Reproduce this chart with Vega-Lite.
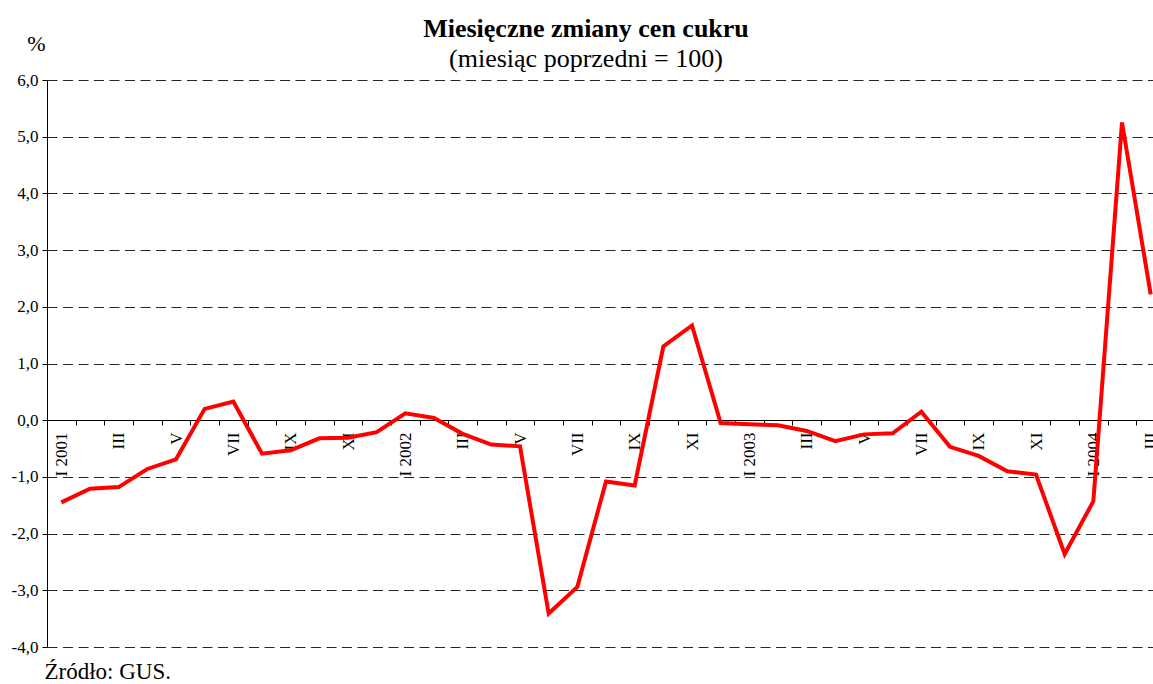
{
  "$schema": "https://vega.github.io/schema/vega-lite/v6.json",
  "autosize": {"type": "none"},
  "padding": {"left": 47, "top": 80, "right": -12, "bottom": 37},
  "width": 1118,
  "height": 567,
  "background": "white",
  "config": {"view": {"stroke": null}, "font": "Liberation Serif"},
  "title": {
    "text": "Miesięczne zmiany cen cukru",
    "subtitle": "(miesiąc poprzedni = 100)",
    "anchor": "middle",
    "frame": "group",
    "dx": -20,
    "offset": -40,
    "font": "Liberation Serif",
    "fontSize": 26,
    "fontWeight": "bold",
    "color": "black",
    "subtitleFont": "Liberation Serif",
    "subtitleFontSize": 26,
    "subtitleColor": "black",
    "subtitlePadding": 4
  },
  "data": {
    "values": [
      {"m": "I 2001#00", "v": -1.45},
      {"m": "#01", "v": -1.21},
      {"m": "III#02", "v": -1.18},
      {"m": "#03", "v": -0.86},
      {"m": "V#04", "v": -0.69},
      {"m": "#05", "v": 0.2},
      {"m": "VII#06", "v": 0.33},
      {"m": "#07", "v": -0.59},
      {"m": "IX#08", "v": -0.53},
      {"m": "#09", "v": -0.32},
      {"m": "XI#10", "v": -0.31},
      {"m": "#11", "v": -0.21},
      {"m": "I 2002#12", "v": 0.12},
      {"m": "#13", "v": 0.04},
      {"m": "III#14", "v": -0.24},
      {"m": "#15", "v": -0.43},
      {"m": "V#16", "v": -0.46},
      {"m": "#17", "v": -3.41},
      {"m": "VII#18", "v": -2.94},
      {"m": "#19", "v": -1.08},
      {"m": "IX#20", "v": -1.15},
      {"m": "#21", "v": 1.3},
      {"m": "XI#22", "v": 1.67},
      {"m": "#23", "v": -0.05},
      {"m": "I 2003#24", "v": -0.07},
      {"m": "#25", "v": -0.09},
      {"m": "III#26", "v": -0.19},
      {"m": "#27", "v": -0.37},
      {"m": "V#28", "v": -0.25},
      {"m": "#29", "v": -0.23},
      {"m": "VII#30", "v": 0.15},
      {"m": "#31", "v": -0.47},
      {"m": "IX#32", "v": -0.63},
      {"m": "#33", "v": -0.9},
      {"m": "XI#34", "v": -0.96},
      {"m": "#35", "v": -2.36},
      {"m": "I 2004#36", "v": -1.43},
      {"m": "#37", "v": 5.25},
      {"m": "III#38", "v": 2.22}
    ]
  },
  "mark": {"type": "line", "color": "#ff0000", "strokeWidth": 4, "strokeJoin": "miter", "clip": false},
  "encoding": {
    "x": {
      "field": "m",
      "type": "ordinal",
      "sort": null,
      "scale": {"paddingInner": 0, "paddingOuter": 0},
      "axis": {
        "orient": "bottom",
        "offset": -227,
        "tickBand": "extent",
        "labelExpr": "datum.value ? split(datum.value, '#')[0] : ''",
        "labelAngle": -90,
        "labelAlign": "right",
        "labelBaseline": "middle",
        "labelFont": "Liberation Serif",
        "labelFontSize": 17,
        "labelColor": "black",
        "labelPadding": 7,
        "domainColor": "black",
        "domainWidth": 1,
        "tickColor": "black",
        "tickSize": 5,
        "grid": false,
        "title": "Źródło: GUS.",
        "titleFont": "Liberation Serif",
        "titleFontSize": 23,
        "titleFontWeight": "normal",
        "titleColor": "black",
        "titleAngle": 0,
        "titleAlign": "left",
        "titleBaseline": "alphabetic",
        "titleX": -3,
        "titleY": 258
      }
    },
    "y": {
      "field": "v",
      "type": "quantitative",
      "scale": {"domain": [-4, 6], "nice": false, "zero": false},
      "axis": {
        "values": [-4, -3, -2, -1, 0, 1, 2, 3, 4, 5, 6],
        "labelExpr": "replace(replace(format(datum.value, '.1f'), '.', ','), '\u2212', '-')",
        "labelFont": "Liberation Serif",
        "labelFontSize": 17,
        "labelColor": "black",
        "labelPadding": 4,
        "domainColor": "black",
        "domainWidth": 1,
        "tickColor": "black",
        "tickSize": 5,
        "grid": true,
        "gridColor": "black",
        "gridDash": [10, 5.5],
        "gridWidth": 1,
        "gridOpacity": 0.85,
        "title": "%",
        "titleFont": "Liberation Serif",
        "titleFontSize": 22,
        "titleFontWeight": "normal",
        "titleColor": "black",
        "titleAngle": 0,
        "titleAlign": "center",
        "titleBaseline": "alphabetic",
        "titleX": -11,
        "titleY": -30
      }
    }
  }
}
